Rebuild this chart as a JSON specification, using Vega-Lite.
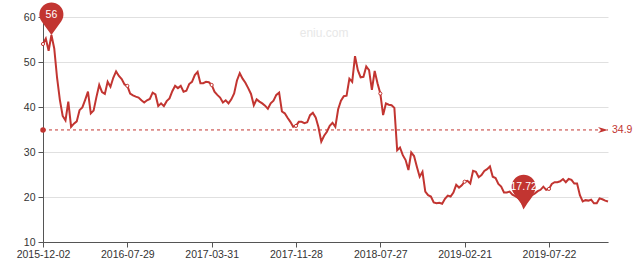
{
"$schema":"https://vega.github.io/schema/vega-lite/v6.json",
"width":565,"height":225,
"autosize":{"type":"none"},
"padding":{"left":43,"top":17,"right":32,"bottom":16},
"config":{"view":{"stroke":null},"font":"Liberation Sans",
"axis":{"labelFont":"Liberation Sans","labelFontSize":10.5,"labelColor":"#333333","domainColor":"#555555","tickColor":"#555555","tickSize":5}},
"datasets":{
"pe":[
{"date":"2015-12-02","value":54},{"date":"2015-12-10","value":55.2},{"date":"2015-12-18","value":52.5},{"date":"2015-12-26","value":56},{"date":"2016-01-03","value":53},
{"date":"2016-01-11","value":46.5},{"date":"2016-01-19","value":41.6},{"date":"2016-01-27","value":38},{"date":"2016-02-04","value":37},{"date":"2016-02-12","value":41.2},
{"date":"2016-02-20","value":35.6},{"date":"2016-02-28","value":36.3},{"date":"2016-03-07","value":36.8},{"date":"2016-03-15","value":39.3},{"date":"2016-03-23","value":39.9},
{"date":"2016-03-31","value":41.6},{"date":"2016-04-08","value":43.4},{"date":"2016-04-16","value":38.6},{"date":"2016-04-24","value":39.2},{"date":"2016-05-02","value":42.2},
{"date":"2016-05-10","value":44.9},{"date":"2016-05-18","value":43.3},{"date":"2016-05-26","value":42.9},{"date":"2016-06-03","value":45.6},{"date":"2016-06-11","value":44.5},
{"date":"2016-06-19","value":46.5},{"date":"2016-06-27","value":47.9},{"date":"2016-07-05","value":46.9},{"date":"2016-07-13","value":46.2},{"date":"2016-07-21","value":45.0},
{"date":"2016-07-29","value":44.7},{"date":"2016-08-06","value":43.0},{"date":"2016-08-14","value":42.6},{"date":"2016-08-22","value":42.3},{"date":"2016-08-30","value":42.1},
{"date":"2016-09-07","value":41.5},{"date":"2016-09-16","value":41},{"date":"2016-09-24","value":41.5},{"date":"2016-10-02","value":41.8},{"date":"2016-10-10","value":43.2},
{"date":"2016-10-18","value":42.8},{"date":"2016-10-26","value":40.2},{"date":"2016-11-04","value":40.8},{"date":"2016-11-12","value":40.2},{"date":"2016-11-20","value":41.3},
{"date":"2016-11-28","value":41.9},{"date":"2016-12-06","value":43.5},{"date":"2016-12-14","value":44.7},{"date":"2016-12-23","value":44.2},{"date":"2016-12-31","value":44.7},
{"date":"2017-01-08","value":43.4},{"date":"2017-01-16","value":43.6},{"date":"2017-01-24","value":45.1},{"date":"2017-02-01","value":45.6},{"date":"2017-02-10","value":47.1},
{"date":"2017-02-18","value":47.8},{"date":"2017-02-26","value":45.3},{"date":"2017-03-06","value":45.3},{"date":"2017-03-14","value":45.6},{"date":"2017-03-22","value":45.5},
{"date":"2017-03-31","value":44.9},{"date":"2017-04-08","value":43.4},{"date":"2017-04-16","value":42.7},{"date":"2017-04-24","value":42.1},{"date":"2017-05-02","value":41},
{"date":"2017-05-10","value":41.5},{"date":"2017-05-18","value":40.8},{"date":"2017-05-26","value":41.7},{"date":"2017-06-03","value":43},{"date":"2017-06-11","value":45.9},
{"date":"2017-06-19","value":47.5},{"date":"2017-06-27","value":46.3},{"date":"2017-07-05","value":45.4},{"date":"2017-07-13","value":44.2},{"date":"2017-07-21","value":42.9},
{"date":"2017-07-30","value":40.4},{"date":"2017-08-07","value":41.7},{"date":"2017-08-15","value":41.2},{"date":"2017-08-23","value":40.8},{"date":"2017-08-31","value":40.3},
{"date":"2017-09-08","value":39.6},{"date":"2017-09-16","value":40.8},{"date":"2017-09-24","value":41.4},{"date":"2017-10-02","value":42.7},{"date":"2017-10-10","value":43.2},
{"date":"2017-10-18","value":39},{"date":"2017-10-26","value":38.6},{"date":"2017-11-03","value":37.6},{"date":"2017-11-11","value":36.7},{"date":"2017-11-19","value":35.6},
{"date":"2017-11-28","value":35.8},{"date":"2017-12-06","value":36.7},{"date":"2017-12-14","value":36.7},{"date":"2017-12-22","value":36.4},{"date":"2017-12-30","value":36.6},
{"date":"2018-01-07","value":38.2},{"date":"2018-01-15","value":38.7},{"date":"2018-01-23","value":37.7},{"date":"2018-01-31","value":35.5},{"date":"2018-02-08","value":32.3},
{"date":"2018-02-16","value":33.6},{"date":"2018-02-24","value":34.5},{"date":"2018-03-04","value":35.8},{"date":"2018-03-12","value":36.5},{"date":"2018-03-20","value":35.6},
{"date":"2018-03-28","value":39.5},{"date":"2018-04-05","value":41.4},{"date":"2018-04-13","value":42.4},{"date":"2018-04-21","value":42.5},{"date":"2018-04-29","value":46.3},
{"date":"2018-05-07","value":45.6},{"date":"2018-05-15","value":51.3},{"date":"2018-05-23","value":48.2},{"date":"2018-05-31","value":46.6},{"date":"2018-06-08","value":46.7},
{"date":"2018-06-16","value":49},{"date":"2018-06-24","value":48.2},{"date":"2018-07-02","value":43.8},{"date":"2018-07-10","value":48},{"date":"2018-07-18","value":45.3},
{"date":"2018-07-27","value":43},{"date":"2018-08-03","value":38.2},{"date":"2018-08-10","value":40.8},{"date":"2018-08-17","value":40.5},{"date":"2018-08-24","value":40.4},
{"date":"2018-08-31","value":39.8},{"date":"2018-09-07","value":30.4},{"date":"2018-09-14","value":31},{"date":"2018-09-21","value":29.3},{"date":"2018-09-28","value":28.2},
{"date":"2018-10-05","value":26},{"date":"2018-10-12","value":29.9},{"date":"2018-10-19","value":29.1},{"date":"2018-10-26","value":26.7},{"date":"2018-11-02","value":24.5},
{"date":"2018-11-09","value":25.6},{"date":"2018-11-16","value":21.2},{"date":"2018-11-23","value":20.4},{"date":"2018-11-30","value":20.1},{"date":"2018-12-07","value":18.8},
{"date":"2018-12-14","value":18.6},{"date":"2018-12-21","value":18.7},{"date":"2018-12-28","value":18.5},{"date":"2019-01-04","value":19.6},{"date":"2019-01-11","value":20.3},
{"date":"2019-01-18","value":20.1},{"date":"2019-01-25","value":21},{"date":"2019-02-01","value":22.7},{"date":"2019-02-08","value":22.1},{"date":"2019-02-15","value":22.6},
{"date":"2019-02-21","value":23.4},{"date":"2019-02-26","value":23.6},{"date":"2019-03-03","value":23},{"date":"2019-03-08","value":25.8},{"date":"2019-03-13","value":25.6},
{"date":"2019-03-18","value":24.4},{"date":"2019-03-23","value":24.9},{"date":"2019-03-28","value":25.8},{"date":"2019-04-02","value":26.2},{"date":"2019-04-07","value":26.8},
{"date":"2019-04-12","value":24.5},{"date":"2019-04-17","value":24.2},{"date":"2019-04-22","value":22.9},{"date":"2019-04-27","value":22.3},{"date":"2019-05-02","value":21},
{"date":"2019-05-07","value":21},{"date":"2019-05-12","value":21.2},{"date":"2019-05-17","value":20.5},{"date":"2019-05-22","value":20.2},{"date":"2019-05-27","value":19.8},
{"date":"2019-06-01","value":19.3},{"date":"2019-06-06","value":17.72},{"date":"2019-06-11","value":18.7},{"date":"2019-06-16","value":19.5},{"date":"2019-06-21","value":20.4},
{"date":"2019-06-26","value":20.8},{"date":"2019-07-01","value":21.3},{"date":"2019-07-06","value":21.6},{"date":"2019-07-11","value":22.3},{"date":"2019-07-16","value":21.6},
{"date":"2019-07-22","value":21.8},{"date":"2019-07-30","value":22.9},{"date":"2019-08-07","value":23.3},{"date":"2019-08-15","value":23.3},{"date":"2019-08-23","value":23.5},
{"date":"2019-08-31","value":24},{"date":"2019-09-08","value":23.3},{"date":"2019-09-16","value":24},{"date":"2019-09-24","value":23.8},{"date":"2019-10-02","value":23},
{"date":"2019-10-10","value":23},{"date":"2019-10-18","value":20.4},{"date":"2019-10-26","value":19},{"date":"2019-11-03","value":19.3},{"date":"2019-11-11","value":19.2},
{"date":"2019-11-19","value":19.4},{"date":"2019-11-27","value":18.6},{"date":"2019-12-05","value":18.6},{"date":"2019-12-13","value":19.7},{"date":"2019-12-21","value":19.5},
{"date":"2019-12-29","value":19.2},{"date":"2020-01-06","value":19.0}
],
"mean":[{"mean":34.9,"start":"2015-12-02","end":"2020-01-06","label":"34.9"}],
"mark":[{"date":"2018-02-16","y":56.4,"text":"eniu.com"}]
},
"data":{"name":"pe"},
"encoding":{
"x":{"field":"date","type":"ordinal","scale":{"type":"point","padding":0},
"axis":{"title":null,"values":["2015-12-02","2016-07-29","2017-03-31","2017-11-28","2018-07-27","2019-02-21","2019-07-22"],"labelAngle":0,"labelPadding":2,"grid":false,"labelOverlap":false}},
"y":{"field":"value","type":"quantitative","scale":{"domain":[10,60],"nice":false,"zero":false},
"axis":{"title":null,"values":[10,20,30,40,50,60],"grid":true,"gridColor":"#e0e0e0","labelPadding":3}}
},
"layer":[
{"data":{"name":"mark"},"mark":{"type":"text","align":"center","baseline":"middle","fontSize":12,"color":"#e8e8e8"},
"encoding":{"x":{"field":"date","type":"ordinal"},"y":{"field":"y","type":"quantitative"},"text":{"field":"text"}}},
{"mark":{"type":"line","color":"#c23531","strokeWidth":2}},
{"transform":[{"filter":{"field":"date","oneOf":["2015-12-02","2016-07-29","2017-03-31","2017-11-28","2018-07-27","2019-02-21","2019-07-22"]}}],
"mark":{"type":"point","shape":"circle","filled":true,"fill":"#ffffff","stroke":"#c23531","strokeWidth":1,"size":10,"opacity":1}},
{"data":{"name":"mean"},"mark":{"type":"rule","color":"#c23531","strokeWidth":1,"strokeDash":[3,3]},
"encoding":{"x":{"field":"start","type":"ordinal"},"x2":{"field":"end"},"y":{"field":"mean","type":"quantitative"}}},
{"data":{"name":"mean"},"mark":{"type":"point","shape":"circle","filled":true,"color":"#c23531","size":30,"opacity":1},
"encoding":{"x":{"field":"start","type":"ordinal"},"y":{"field":"mean","type":"quantitative"}}},
{"data":{"name":"mean"},"mark":{"type":"point","shape":"M0,0 L-2,-0.6 L-1.4,0 L-2,0.6 Z","filled":true,"color":"#c23531","size":100,"opacity":1},
"encoding":{"x":{"field":"end","type":"ordinal"},"y":{"field":"mean","type":"quantitative"}}},
{"data":{"name":"mean"},"mark":{"type":"text","align":"left","baseline":"middle","dx":4,"fontSize":10.5,"color":"#c23531"},
"encoding":{"x":{"field":"end","type":"ordinal"},"y":{"field":"mean","type":"quantitative"},"text":{"field":"label"}}},
{"transform":[{"filter":{"field":"value","oneOf":[56,17.72]}}],
"mark":{"type":"point","shape":"M0,0 L-0.809,-1.112 A1,1 0 1 1 0.809,-1.112 Z","filled":true,"color":"#c23531","size":580,"opacity":1}},
{"transform":[{"filter":{"field":"value","oneOf":[56,17.72]}}],
"mark":{"type":"text","align":"center","baseline":"middle","dy":-20.4,"fontSize":10.5,"color":"#ffffff"},
"encoding":{"text":{"field":"value","type":"nominal"}}}
]
}
